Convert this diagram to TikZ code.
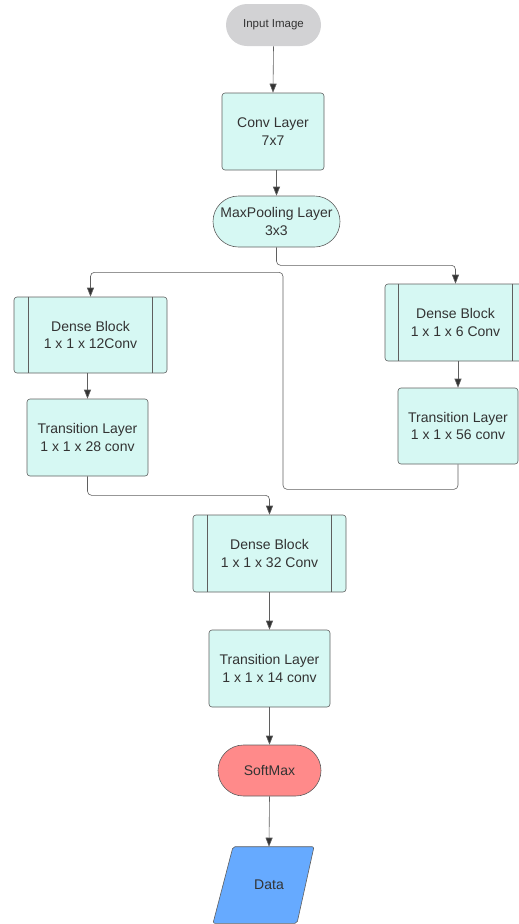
\documentclass[tikz,border=0pt]{standalone}
\usepackage{fontspec}
\setmainfont{Liberation Sans}
\usetikzlibrary{shapes.misc,arrows.meta}
\definecolor{boxfill}{RGB}{214,248,243}
\definecolor{edge}{RGB}{95,95,95}
\definecolor{txt}{RGB}{51,51,51}
\definecolor{inputgray}{RGB}{210,210,212}
\definecolor{softred}{RGB}{255,138,138}
\definecolor{datablue}{RGB}{102,170,255}
\begin{document}
\begin{tikzpicture}[x=1pt,y=-1pt,
  base/.style={draw=edge,line width=0.6pt,text=txt,align=center,inner sep=0pt,
    font=\fontsize{14}{17.5}\selectfont},
  rbox/.style={base,fill=boxfill,rectangle,rounded corners=3pt},
  pill/.style={base,rounded rectangle},
  arr/.style={draw=edge,line width=0.6pt,rounded corners=4pt,
    -{Triangle[length=9pt,width=7pt,fill=txt]}},
  ln/.style={draw=edge,line width=0.6pt}]
\useasboundingbox (0,0) rectangle (519,924);

\node[pill,draw=none,fill=inputgray,minimum width=95pt,minimum height=42pt,
  font=\fontsize{11.5}{13}\selectfont] (in) at (273.5,25) {Input Image};
\node[rbox,minimum width=102pt,minimum height=77pt] (conv) at (273,131.5) {Conv Layer\\7x7};
\node[pill,fill=boxfill,minimum width=127pt,minimum height=51pt] (mp) at (276.5,221.5) {MaxPooling Layer\\3x3};

\node[rbox,minimum width=153pt,minimum height=76pt] (ldb) at (90.5,335) {Dense Block\\1 x 1 x 12Conv};
\node[rbox,minimum width=121pt,minimum height=77pt] (lt) at (87.5,437.5) {Transition Layer\\1 x 1 x 28 conv};

\node[rbox,minimum width=141pt,minimum height=77pt] (rdb) at (455.5,322.5) {Dense Block\\1 x 1 x 6 Conv};
\node[rbox,minimum width=120pt,minimum height=76pt] (rt) at (458,426) {Transition Layer\\1 x 1 x 56 conv};

\node[rbox,minimum width=153pt,minimum height=77pt] (db3) at (269.5,553.5) {Dense Block\\1 x 1 x 32 Conv};
\node[rbox,minimum width=121pt,minimum height=77pt] (t3) at (269.5,668.5) {Transition Layer\\1 x 1 x 14 conv};

\node[pill,fill=softred,minimum width=103pt,minimum height=51pt] (sm) at (269.5,770.5) {SoftMax};
\node[base,draw=none,minimum height=76pt,minimum width=10pt] (data) at (269,885) {};
\draw[ln,fill=datablue,rounded corners=2pt]
  ([xshift=-36pt]data.north) -- ([xshift=45pt]data.north) --
  ([xshift=28pt]data.south) -- ([xshift=-56pt]data.south) -- cycle;
\node[text=txt,font=\fontsize{14}{17.5}\selectfont] at (data.center) {Data};

% inner lines of dense blocks
\foreach \n/\d in {ldb/15,rdb/14,db3/15}{
  \draw[ln] ([xshift=\d pt]\n.north west) -- ([xshift=\d pt]\n.south west);
  \draw[ln] ([xshift=-\d pt]\n.north east) -- ([xshift=-\d pt]\n.south east);
}

% connectors
\draw[arr] (in.south) -- (conv.north);
\draw[arr] (conv.south -| mp.north) -- (mp.north);
\draw[arr] (mp.south) -- ++(0,18) -| (rdb.north);
\draw[arr] (rdb.south -| rt.north) -- (rt.north);
\draw[arr] (rt.south) -- ++(0,25) -- ++(-175,0) -- ++(0,-217) -| (ldb.north);
\draw[arr] (ldb.south -| lt.north) -- (lt.north);
\draw[arr] (lt.south) -- ++(0,19) -| (db3.north);
\draw[arr] (db3.south) -- (t3.north);
\draw[arr] (t3.south) -- (sm.north);
\draw[arr] (sm.south) -- (data.north);
\end{tikzpicture}
\end{document}
